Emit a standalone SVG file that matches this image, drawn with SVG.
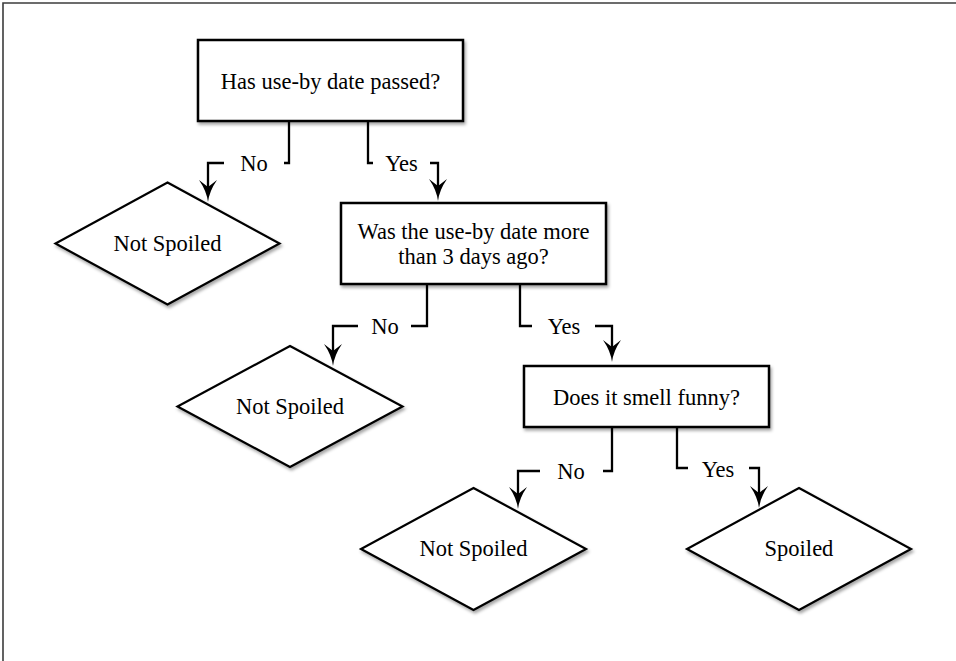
<svg xmlns="http://www.w3.org/2000/svg" width="956" height="661" viewBox="0 0 956 661">
<defs>
<style>
.box{fill:#fff;stroke:#000;stroke-width:2.5;filter:url(#sh)}
.dia{fill:#fff;stroke:#000;stroke-width:2.2;stroke-linejoin:miter;filter:url(#sh)}
.t{font-family:"Liberation Serif","Times New Roman",serif;font-size:22.5px;fill:#000;text-anchor:middle}
.c{fill:none;stroke:#000;stroke-width:2.3;stroke-linejoin:miter}
.arr{marker-end:url(#ah)}
</style>
<filter id="sh" x="-10%" y="-10%" width="125%" height="130%">
<feDropShadow dx="1.5" dy="2.5" stdDeviation="1.8" flood-color="#000" flood-opacity="0.35"/>
</filter>
<marker id="ah" markerUnits="userSpaceOnUse" viewBox="0 0 22 18" markerWidth="22" markerHeight="18" refX="7" refY="9" orient="auto">
<path d="M22,9 Q11,7.6 0,0 L7,9 L0,18 Q11,10.4 22,9 Z" fill="#000"/>
</marker>
</defs>
<rect x="0" y="0" width="956" height="661" fill="#fff"/>
<path d="M3,661 V3 H956" fill="none" stroke="#3c3c3c" stroke-width="1.6"/>

<g id="connectors">
<path class="c" d="M289,121 V163 H284"/>
<path class="c arr" d="M224,163 H208 V187"/>
<path class="c" d="M368,121 V163 H373"/>
<path class="c arr" d="M430,163 H438 V186"/>
<path class="c" d="M427,284 V326 H411"/>
<path class="c arr" d="M358,326 H333 V351"/>
<path class="c" d="M520,284 V326 H532"/>
<path class="c arr" d="M595,326 H612 V347"/>
<path class="c" d="M612,427 V471 H603"/>
<path class="c arr" d="M540,471 H518 V494"/>
<path class="c" d="M677,427 V468 H688"/>
<path class="c arr" d="M749,468 H759 V493"/>
<text class="t" x="254" y="171">No</text>
<text class="t" x="401.5" y="171">Yes</text>
<text class="t" x="385" y="334">No</text>
<text class="t" x="564" y="334">Yes</text>
<text class="t" x="571" y="479">No</text>
<text class="t" x="718" y="477">Yes</text>
</g>

<g id="q1">
<rect class="box" x="198" y="40" width="265" height="81"/>
<text class="t" x="330.5" y="89">Has use-by date passed?</text>
</g>
<g id="r1">
<polygon class="dia" points="167.5,182.5 279.5,243.5 167.5,304.5 55.5,243.5"/>
<text class="t" x="167.5" y="250.5">Not Spoiled</text>
</g>
<g id="q2">
<rect class="box" x="341" y="203" width="265" height="81"/>
<text class="t" x="473.5" y="239">Was the use-by date more</text>
<text class="t" x="473.5" y="264">than 3 days ago?</text>
</g>
<g id="r2">
<polygon class="dia" points="290,346 402.5,406.5 290,467 177.5,406.5"/>
<text class="t" x="290" y="413.5">Not Spoiled</text>
</g>
<g id="q3">
<rect class="box" x="524" y="366" width="245" height="61"/>
<text class="t" x="646.5" y="404.5">Does it smell funny?</text>
</g>
<g id="r3">
<polygon class="dia" points="473.5,488 586,549 473.5,610 361,549"/>
<text class="t" x="473.5" y="556">Not Spoiled</text>
</g>
<g id="r4">
<polygon class="dia" points="799,488 911,549 799,610 687,549"/>
<text class="t" x="799" y="556">Spoiled</text>
</g>
</svg>
